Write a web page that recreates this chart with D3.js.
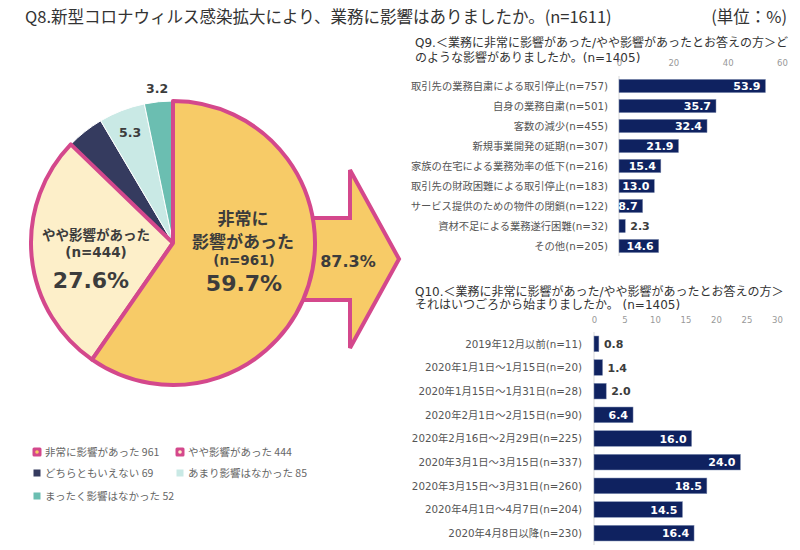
<!DOCTYPE html>
<html><head><meta charset="utf-8">
<script src="https://cdn.jsdelivr.net/npm/d3@7"></script>
<style>body{margin:0;background:#fff}</style>
</head><body>
<svg id="c" width="800" height="550"></svg>
<script>
// ---------- data ----------
const pieLabels = ["非常に影響があった","やや影響があった","どちらともいえない","あまり影響はなかった","まったく影響はなかった"];
const pieCounts = [961,444,69,85,52];
const piePct = [59.7,27.6,4.3,5.3,3.2];
const affectedPct = 87.3;

const q9Labels = ["取引先の業務自粛による取引停止(n=757)","自身の業務自粛(n=501)","客数の減少(n=455)","新規事業開発の延期(n=307)","家族の在宅による業務効率の低下(n=216)","取引先の財政困難による取引停止(n=183)","サービス提供のための物件の閉鎖(n=122)","資材不足による業務遂行困難(n=32)","その他(n=205)"];
const q9Values = [53.9,35.7,32.4,21.9,15.4,13.0,8.7,2.3,14.6];
const q9Ticks = [0,20,40,60];

const q10Labels = ["2019年12月以前(n=11)","2020年1月1日～1月15日(n=20)","2020年1月15日～1月31日(n=28)","2020年2月1日～2月15日(n=90)","2020年2月16日～2月29日(n=225)","2020年3月1日～3月15日(n=337)","2020年3月15日～3月31日(n=260)","2020年4月1日～4月7日(n=204)","2020年4月8日以降(n=230)"];
const q10Values = [0.8,1.4,2.0,6.4,16.0,24.0,18.5,14.5,16.4];
const q10Ticks = [0,5,10,15,20,25,30];

// ---------- styles ----------
const JP = "'Noto Sans CJK JP', sans-serif";
const NUM = "'DejaVu Sans', 'Noto Sans CJK JP', sans-serif";
const PINK = "#d4488c";
const pieColors = ["#f7cb67","#fdefc9","#353b5f","#c9e9e5","#6bbeb1"];
const BAR = "#0f2260";
const DARK = "#3c3c3c";

const svg = d3.select("#c");

// ---------- title ----------
svg.append("text").attr("x",25).attr("y",23).attr("font-family",JP).attr("font-size",16.5).attr("fill","#333")
  .text("Q8.新型コロナウィルス感染拡大により、業務に影響はありましたか。(n=1611)");
svg.append("text").attr("x",787).attr("y",23).attr("text-anchor","end").attr("font-family",JP).attr("font-size",16.5).attr("fill","#333")
  .text("(単位：%)");

// ---------- arrow ----------
const arrowPts = [[290,218],[350,218],[350,170],[399,259],[350,348],[350,300],[290,300]];
svg.append("path").attr("d", d3.line()(arrowPts) + "Z")
  .attr("fill", pieColors[0]).attr("stroke", PINK).attr("stroke-width",4).attr("stroke-linejoin","miter");
svg.append("text").attr("x",348).attr("y",267).attr("text-anchor","middle").attr("font-family",NUM)
  .attr("font-weight","bold").attr("font-size",16).attr("fill",DARK).text(affectedPct.toFixed(1)+"%");

// ---------- pie ----------
const cx = 173, cy = 243, R = 142;
const pie = d3.pie().sort(null).value(d=>d);
const arcs = pie(pieCounts);
const arc = d3.arc().innerRadius(0).outerRadius(R);
const g = svg.append("g").attr("transform",`translate(${cx},${cy})`);
[2,3,4].forEach(i=>{
  g.append("path").attr("d",arc(arcs[i])).attr("fill",pieColors[i]).attr("stroke","#fff").attr("stroke-width",1);
});
[1,0].forEach(i=>{
  g.append("path").attr("d",arc(arcs[i])).attr("fill",pieColors[i]).attr("stroke",PINK).attr("stroke-width",4).attr("stroke-linejoin","round");
});

function t(x,y,txt,size,weight,font,anchor){
  return svg.append("text").attr("x",x).attr("y",y).attr("text-anchor",anchor||"middle")
    .attr("font-family",font||NUM).attr("font-size",size).attr("font-weight",weight||"bold").attr("fill",DARK).text(txt);
}
t(cx+70, 225, "非常に", 17, "bold", JP);
t(cx+70, 248, "影響があった", 17, "bold", JP);
t(cx+71, 265, `(n=${pieCounts[0]})`, 13.5, "bold");
t(cx+71, 291, piePct[0].toFixed(1)+"%", 22, "bold");
t(cx-77, 240, "やや影響があった", 13.5, "bold", JP);
t(cx-77, 257, `(n=${pieCounts[1]})`, 13.5, "bold");
t(cx-82, 288, piePct[1].toFixed(1)+"%", 22, "bold");
const a53 = (arcs[3].startAngle+arcs[3].endAngle)/2;
t(cx + Math.sin(a53)*R*0.84, cy - Math.cos(a53)*R*0.84 + 5, piePct[3].toFixed(1), 12.5, "bold");
const a32 = (arcs[4].startAngle+arcs[4].endAngle)/2;
t(cx + Math.sin(a32)*R*1.1, cy - Math.cos(a32)*R*1.1 + 5, piePct[4].toFixed(1), 12.5, "bold");

// ---------- legend ----------
const legPos = [[37,452],[180,452],[37,473],[180,473],[37,496]];
pieLabels.forEach((lab,i)=>{
  const [x,y] = legPos[i];
  if(i<2){
    svg.append("rect").attr("x",x-4.5).attr("y",y-4.5).attr("width",9).attr("height",9).attr("rx",1.5).attr("fill",PINK);
    svg.append("circle").attr("cx",x).attr("cy",y).attr("r",1.8).attr("fill",pieColors[i]);
  } else {
    svg.append("rect").attr("x",x-3.5).attr("y",y-3.5).attr("width",7).attr("height",7).attr("fill",pieColors[i]);
  }
  svg.append("text").attr("x",x+8).attr("y",y+4).attr("font-family",JP).attr("font-size",10.5).attr("fill","#666")
    .text(lab+" "+pieCounts[i]);
});

// ---------- bar chart helper ----------
function barChart(opt){
  const {labels, values, ticks, x0, x1, dmax, y0, y1, tickY, labelX, insideMin} = opt;
  const x = d3.scaleLinear().domain([0,dmax]).range([x0,x1]);
  const y = d3.scaleBand().domain(labels).range([y0,y1]).paddingInner(0.34).paddingOuter(0.17);
  const ax = svg.append("g").attr("transform",`translate(0,${tickY})`)
    .call(d3.axisTop(x).tickValues(ticks).tickSize(0).tickPadding(0).tickFormat(d3.format("d")));
  ax.select(".domain").remove();
  ax.selectAll("text").attr("font-family",NUM).attr("font-size",8.5).attr("fill","#999");
  svg.append("line").attr("x1",x(0)).attr("x2",x(0)).attr("y1",y0).attr("y2",y1).attr("stroke","#d9d9d9").attr("stroke-width",1);
  labels.forEach((lab,i)=>{
    svg.append("text").attr("x",labelX).attr("y",y(lab)+y.bandwidth()/2+3.8).attr("text-anchor","end")
      .attr("font-family",NUM).attr("font-size",10.3).attr("fill","#555").text(lab);
  });
  values.forEach((v,i)=>{
    const lab = labels[i];
    svg.append("rect").attr("x",x(0)).attr("y",y(lab)).attr("width",x(v)-x(0)).attr("height",y.bandwidth())
      .attr("fill",BAR).attr("stroke","#7d8bb0").attr("stroke-width",0.5);
    const inside = v >= insideMin;
    svg.append("text").attr("x", inside ? x(v)-5 : x(v)+5).attr("y",y(lab)+y.bandwidth()/2+4)
      .attr("text-anchor", inside ? "end" : "start").attr("font-family",NUM).attr("font-weight","bold")
      .attr("font-size",11).attr("fill", inside ? "#fff" : DARK).text(v.toFixed(1));
  });
}

// ---------- Q9 ----------
svg.append("text").attr("x",415).attr("y",47).attr("font-family",NUM).attr("font-size",12).attr("fill","#333")
  .text("Q9.＜業務に非常に影響があった/やや影響があったとお答えの方＞ど");
svg.append("text").attr("x",415).attr("y",62).attr("font-family",NUM).attr("font-size",12).attr("fill","#333")
  .text("のような影響がありましたか。(n=1405)");
barChart({labels:q9Labels, values:q9Values, ticks:q9Ticks, x0:619, x1:782, dmax:60, y0:76, y1:256, tickY:66, labelX:608, insideMin:5});

// ---------- Q10 ----------
svg.append("text").attr("x",415).attr("y",296).attr("font-family",NUM).attr("font-size",12).attr("fill","#333")
  .text("Q10.＜業務に非常に影響があった/やや影響があったとお答えの方＞");
svg.append("text").attr("x",415).attr("y",309).attr("font-family",NUM).attr("font-size",12).attr("fill","#333")
  .text("それはいつごろから始まりましたか。 (n=1405)");
barChart({labels:q10Labels, values:q10Values, ticks:q10Ticks, x0:594, x1:777, dmax:30, y0:332, y1:545, tickY:323, labelX:582, insideMin:5});
</script>
</body></html>
